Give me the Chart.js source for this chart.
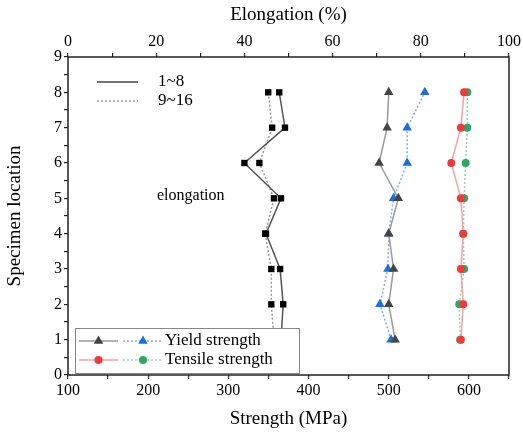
<!DOCTYPE html>
<html>
<head>
<meta charset="utf-8">
<script src="https://cdn.jsdelivr.net/npm/chart.js@4.4.1/dist/chart.umd.min.js"></script>
<style>
  html, body { margin: 0; padding: 0; background: #fff; }
  #wrap { width: 523px; height: 434px; }
</style>
</head>
<body>
<div id="wrap"><canvas id="c"></canvas></div>
<script>
// specimen positions (y)
const locations = [1, 2, 3, 4, 5, 6, 7, 8];

// elongation (%) - top axis
const elong1to8  = [48.3, 48.8, 48.1, 44.9, 48.3, 40.0, 49.2, 47.9];
const elong9to16 = [46.7, 46.1, 46.1, 44.7, 46.7, 43.4, 46.3, 45.4];

// strength (MPa) - bottom axis
const yield1to8    = [508, 500, 506, 500, 512, 488, 498, 500];
const yield9to16   = [503, 489, 499, 500, 506, 523, 523, 545];
const tensile1to8  = [590, 593, 590, 593, 590, 578, 590, 594];
const tensile9to16 = [589, 588, 594, 593, 594, 596, 598, 598];

const FONT = "'Liberation Serif', 'DejaVu Serif', serif";

const pts = (vals) => vals.map((v, i) => ({ x: v, y: locations[i] }));

const series = (label, vals, axis, lineColor, markColor, style, dotted, r) => ({
  label,
  data: pts(vals),
  xAxisID: axis,
  showLine: true,
  borderColor: lineColor,
  borderWidth: 1.5,
  borderDash: dotted ? [2, 2] : [],
  pointStyle: style,
  pointRadius: r,
  pointBackgroundColor: markColor,
  pointBorderColor: markColor,
  pointBorderWidth: 0,
  tension: 0,
});

const extras = {
  id: 'extras',
  afterDatasetsDraw(chart) {
    const { ctx, chartArea: a } = chart;
    ctx.save();
    // frame
    ctx.strokeStyle = '#222';
    ctx.lineWidth = 1.5;
    ctx.strokeRect(a.left, a.top, a.right - a.left, a.bottom - a.top);

    // "elongation" note
    ctx.fillStyle = '#000';
    ctx.font = '16px ' + FONT;
    ctx.textBaseline = 'middle';
    ctx.fillText('elongation', 157, 196);

    // line-style legend
    ctx.lineWidth = 1.5;
    ctx.strokeStyle = '#444';
    ctx.setLineDash([]);
    ctx.beginPath(); ctx.moveTo(97, 82); ctx.lineTo(138, 82); ctx.stroke();
    ctx.strokeStyle = '#999';
    ctx.setLineDash([2, 2]);
    ctx.beginPath(); ctx.moveTo(97, 101); ctx.lineTo(138, 101); ctx.stroke();
    ctx.setLineDash([]);
    ctx.font = '17px ' + FONT;
    ctx.fillText('1~8', 158, 82);
    ctx.fillText('9~16', 158, 101);

    // marker legend box
    ctx.fillStyle = '#fff';
    ctx.fillRect(75, 328, 224, 45);
    ctx.strokeStyle = '#888';
    ctx.lineWidth = 1;
    ctx.strokeRect(75.5, 328.5, 224, 45);
    const rows = [
      { y: 341, text: 'Yield strength', a: chart.data.datasets[2], b: chart.data.datasets[3] },
      { y: 360, text: 'Tensile strength', a: chart.data.datasets[4], b: chart.data.datasets[5] },
    ];
    rows.forEach(row => {
      [[row.a, 79, 118], [row.b, 123, 163]].forEach(([ds, x0, x1]) => {
        ctx.strokeStyle = ds.borderColor;
        ctx.lineWidth = 1.5;
        ctx.setLineDash(ds.borderDash);
        ctx.beginPath(); ctx.moveTo(x0, row.y); ctx.lineTo(x1, row.y); ctx.stroke();
        ctx.setLineDash([]);
        ctx.fillStyle = ds.pointBackgroundColor;
        Chart.helpers.drawPoint(ctx, { pointStyle: ds.pointStyle, radius: ds.pointRadius, rotation: 0, borderWidth: 0 }, (x0 + x1) / 2, row.y);
      });
      ctx.fillStyle = '#000';
      ctx.font = '17px ' + FONT;
      ctx.fillText(row.text, 165, row.y);
    });
    ctx.restore();
  }
};

const tickOpts = (every) => ({
  color: '#000',
  font: { family: FONT, size: 16 },
  autoSkip: false,
  maxRotation: 0,
  padding: 2,
  callback: (v) => (Math.abs(v / every - Math.round(v / every)) < 1e-6 ? v : ''),
});

const gridOpts = { display: true, drawOnChartArea: false, tickLength: 4, color: '#222', lineWidth: 1.2 };

new Chart(document.getElementById('c'), {
  type: 'scatter',
  data: {
    datasets: [
      series('Elongation 1~8', elong1to8, 'xe', '#555', '#000', 'rect', false, 4.5),
      series('Elongation 9~16', elong9to16, 'xe', '#999', '#000', 'rect', true, 4.5),
      series('Yield strength 1~8', yield1to8, 'xs', '#999', '#444', 'triangle', false, 5.5),
      series('Yield strength 9~16', yield9to16, 'xs', '#7fb0ee', '#1a6fe0', 'triangle', true, 5.5),
      series('Tensile strength 1~8', tensile1to8, 'xs', '#f7a0a0', '#f03a3a', 'circle', false, 4),
      series('Tensile strength 9~16', tensile9to16, 'xs', '#8fd6b0', '#2aa866', 'circle', true, 4),
    ],
  },
  options: {
    responsive: true,
    maintainAspectRatio: false,
    animation: false,
    layout: { padding: { left: 0, right: 10, top: 0, bottom: 0 } },
    plugins: { legend: { display: false }, tooltip: { enabled: false } },
    scales: {
      xs: {
        type: 'linear', position: 'bottom', min: 100, max: 650,
        ticks: { ...tickOpts(100), stepSize: 50 },
        grid: gridOpts,
        border: { display: false },
        title: { display: true, text: 'Strength (MPa)', color: '#000', font: { family: FONT, size: 19 }, padding: { top: 2 } },
        afterFit: (s) => { s.height = 59; },
      },
      xe: {
        type: 'linear', position: 'top', min: 0, max: 100,
        ticks: { ...tickOpts(20), stepSize: 10 },
        grid: gridOpts,
        border: { display: false },
        title: { display: true, text: 'Elongation (%)', color: '#000', font: { family: FONT, size: 19 }, padding: { bottom: 2 } },
        afterFit: (s) => { s.height = 57; },
      },
      y: {
        type: 'linear', min: 0, max: 9,
        ticks: { ...tickOpts(1), stepSize: 0.5 },
        grid: gridOpts,
        border: { display: false },
        title: { display: true, text: 'Specimen location', color: '#000', font: { family: FONT, size: 19 }, padding: { bottom: 4 } },
        afterFit: (s) => { s.width = 68; },
      },
    },
  },
  plugins: [extras],
});
</script>
</body>
</html>
